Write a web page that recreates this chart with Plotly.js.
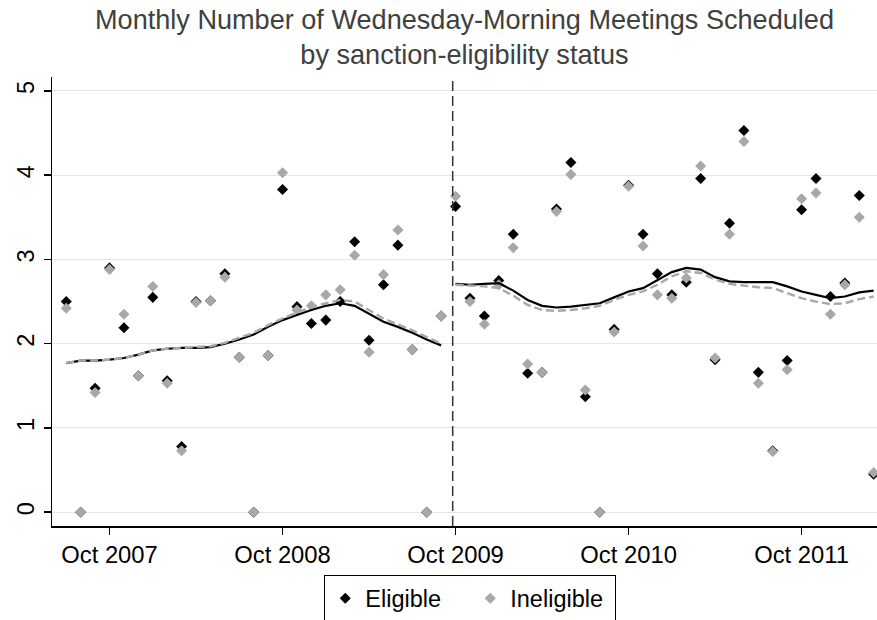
<!DOCTYPE html>
<html><head><meta charset="utf-8">
<script src="https://cdn.plot.ly/plotly-3.0.1.min.js"></script>
<style>html,body{margin:0;padding:0;background:#fff}#chart{width:877px;height:620px}</style>
</head><body><div id="chart"></div>
<script>
const months = ["2007-07","2007-08","2007-09","2007-10","2007-11","2007-12",
  "2008-01","2008-02","2008-03","2008-04","2008-05","2008-06","2008-07","2008-08","2008-09","2008-10","2008-11","2008-12",
  "2009-01","2009-02","2009-03","2009-04","2009-05","2009-06","2009-07","2009-08","2009-09","2009-10","2009-11","2009-12",
  "2010-01","2010-02","2010-03","2010-04","2010-05","2010-06","2010-07","2010-08","2010-09","2010-10","2010-11","2010-12",
  "2011-01","2011-02","2011-03","2011-04","2011-05","2011-06","2011-07","2011-08","2011-09","2011-10","2011-11","2011-12",
  "2012-01","2012-02","2012-03"];
const eligible = [2.50,0,1.47,2.90,2.19,1.62,
  2.55,1.56,0.78,2.50,2.51,2.83,1.84,0,1.86,3.83,2.44,2.24,
  2.28,2.50,3.21,2.04,2.70,3.17,1.93,0,2.33,3.63,2.54,2.33,
  2.75,3.30,1.65,1.66,3.60,4.15,1.37,0,2.17,3.88,3.30,2.83,
  2.58,2.73,3.96,1.81,3.43,4.53,1.66,0.73,1.80,3.59,3.96,2.56,
  2.72,3.76,0.45];
const ineligible = [2.42,0,1.42,2.88,2.35,1.62,
  2.68,1.53,0.73,2.49,2.51,2.79,1.84,0,1.86,4.03,2.40,2.45,
  2.58,2.64,3.05,1.90,2.82,3.35,1.93,0,2.33,3.75,2.50,2.23,
  2.70,3.14,1.76,1.66,3.57,4.01,1.45,0,2.14,3.87,3.16,2.58,
  2.54,2.78,4.11,1.83,3.30,4.40,1.53,0.72,1.69,3.72,3.79,2.35,
  2.70,3.50,0.47];
const eligibleFit = [1.77,1.80,1.80,1.81,1.83,1.87,
  1.92,1.94,1.95,1.95,1.96,2.00,2.05,2.11,2.20,2.28,2.34,2.40,
  2.45,2.48,2.45,2.35,2.26,2.20,2.13,2.05,1.98,2.71,2.70,2.71,
  2.72,2.63,2.52,2.45,2.43,2.44,2.46,2.48,2.55,2.62,2.66,2.75,
  2.85,2.90,2.88,2.79,2.74,2.73,2.73,2.73,2.68,2.62,2.58,2.54,
  2.56,2.61,2.63];
const ineligibleFit = [1.77,1.80,1.80,1.81,1.83,1.87,
  1.92,1.94,1.95,1.96,1.97,2.01,2.07,2.13,2.22,2.30,2.37,2.43,
  2.48,2.52,2.50,2.40,2.30,2.23,2.16,2.08,2.00,2.70,2.69,2.68,
  2.66,2.57,2.46,2.40,2.39,2.40,2.42,2.45,2.52,2.58,2.62,2.70,
  2.80,2.86,2.84,2.76,2.71,2.69,2.67,2.66,2.60,2.54,2.50,2.47,
  2.48,2.53,2.56];
const tickMonths = ["2007-10","2008-10","2009-10","2010-10","2011-10"];
const tickLabels = ["Oct 2007","Oct 2008","Oct 2009","Oct 2010","Oct 2011"];
const yTicks = [0,1,2,3,4,5];
const cutoffMonth = "2009-10";

function monthIndex(s){const p=s.split("-").map(Number);return (p[0]-2007)*12+(p[1]-10);}
const x = months.map(monthIndex);
const cut = monthIndex(cutoffMonth);
const preIdx = x.map((v,i)=>v<cut?i:-1).filter(i=>i>=0);
const postIdx = x.map((v,i)=>v>=cut?i:-1).filter(i=>i>=0);
const pick = (arr, idx) => idx.map(i=>arr[i]);

const FONT = "Liberation Sans, Arial, sans-serif";
const GREY = "#a8a8a8";

const traces = [
  {x:x, y:eligible, type:"scatter", mode:"markers", name:"Eligible",
   marker:{symbol:"diamond", size:8.5, color:"#000"}},
  {x:x, y:ineligible, type:"scatter", mode:"markers", name:"Ineligible",
   marker:{symbol:"diamond", size:8.5, color:GREY}},
  {x:pick(x,preIdx), y:pick(eligibleFit,preIdx), type:"scatter", mode:"lines", showlegend:false, hoverinfo:"skip",
   line:{color:"#000", width:2.2}},
  {x:pick(x,postIdx), y:pick(eligibleFit,postIdx), type:"scatter", mode:"lines", showlegend:false, hoverinfo:"skip",
   line:{color:"#000", width:2.2}},
  {x:pick(x,preIdx), y:pick(ineligibleFit,preIdx), type:"scatter", mode:"lines", showlegend:false, hoverinfo:"skip",
   line:{color:GREY, width:2.4, dash:"8px,4px"}},
  {x:pick(x,postIdx), y:pick(ineligibleFit,postIdx), type:"scatter", mode:"lines", showlegend:false, hoverinfo:"skip",
   line:{color:GREY, width:2.4, dash:"8px,4px"}}
];

const layout = {
  width:877, height:620,
  margin:{l:52, r:0, t:77, b:94, pad:0, autoexpand:false},
  paper_bgcolor:"#fff", plot_bgcolor:"#fff",
  font:{family:FONT, color:"#000"},
  title:{text:"Monthly Number of Wednesday-Morning Meetings Scheduled<br>by sanction-eligibility status",
    font:{family:FONT, size:27.1, color:"#404040"}, x:0.5, xref:"paper", xanchor:"center",
    y:0.953, yref:"container", yanchor:"top"},
  xaxis:{range:[-3.99,53.23], tickvals:tickMonths.map(monthIndex), ticktext:tickLabels,
    ticks:"outside", ticklen:7, tickwidth:1.5, tickcolor:"#000",
    showline:true, linecolor:"#000", linewidth:1.5, showgrid:false, zeroline:false,
    tickfont:{family:FONT, size:23.8, color:"#000"}},
  yaxis:{range:[-0.164,5.166], tickvals:yTicks, ticks:"outside", ticklen:7, tickwidth:1.5, tickcolor:"#000",
    tickangle:-90, showline:true, linecolor:"#000", linewidth:1.5,
    showgrid:true, gridcolor:"#e6e6e6", gridwidth:1, zeroline:false,
    tickfont:{family:FONT, size:23.5, color:"#000"}},
  shapes:[{type:"line", xref:"x", yref:"paper", x0:cut-0.2, x1:cut-0.2, y0:0, y1:1,
    line:{color:"#333", width:1.5, dash:"10px,5px"}}],
  showlegend:true,
  legend:{orientation:"h", x:0.507, xanchor:"center", y:-0.11, yanchor:"top",
    entrywidth:100, entrywidthmode:"pixels",
    bordercolor:"#000", borderwidth:1, font:{family:FONT, size:23.5, color:"#000"}, bgcolor:"#fff"}
};

Plotly.newPlot("chart", traces, layout, {displayModeBar:false, staticPlot:true});
</script></body></html>
